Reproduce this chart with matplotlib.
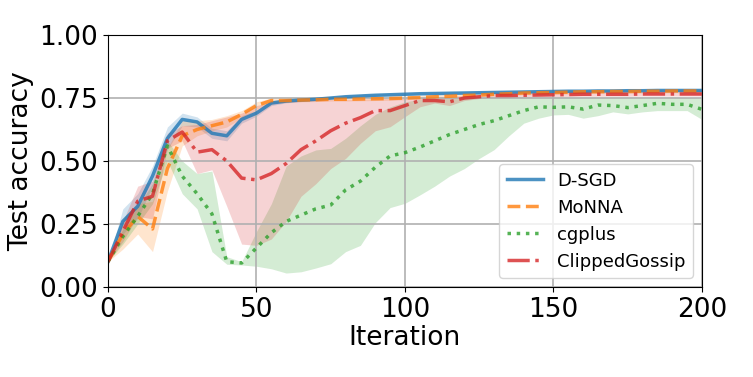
import matplotlib
matplotlib.use('Agg')
import matplotlib.pyplot as plt

iterations = list(range(0, 201, 5))

dsgd_mean = [0.10, 0.26, 0.32, 0.44, 0.59, 0.665, 0.655, 0.61, 0.60, 0.665, 0.69,
             0.73, 0.738, 0.742, 0.745, 0.75, 0.755, 0.758, 0.761, 0.763, 0.765,
             0.767, 0.768, 0.769, 0.77, 0.771, 0.772, 0.773, 0.774, 0.775, 0.776,
             0.777, 0.777, 0.778, 0.778, 0.779, 0.779, 0.78, 0.78, 0.78, 0.78]
dsgd_spread = [0.0, 0.05, 0.05, 0.04, 0.045, 0.025, 0.02, 0.02, 0.02, 0.015, 0.012,
               0.01, 0.007, 0.006, 0.006, 0.006, 0.006, 0.006, 0.006, 0.006, 0.006,
               0.006, 0.006, 0.006, 0.006, 0.006, 0.006, 0.006, 0.006, 0.006, 0.006,
               0.006, 0.006, 0.006, 0.006, 0.006, 0.006, 0.006, 0.006, 0.006, 0.006]

monna_mean = [0.10, 0.21, 0.28, 0.23, 0.47, 0.60, 0.625, 0.64, 0.655, 0.685, 0.72,
              0.74, 0.74, 0.742, 0.743, 0.745, 0.745, 0.746, 0.747, 0.748, 0.75,
              0.752, 0.755, 0.757, 0.76, 0.762, 0.765, 0.767, 0.77, 0.771, 0.772,
              0.773, 0.775, 0.775, 0.776, 0.776, 0.777, 0.777, 0.778, 0.778, 0.778]
monna_lo = [0.10, 0.15, 0.21, 0.14, 0.38, 0.56, 0.60, 0.62, 0.635, 0.67, 0.705,
            0.73, 0.733, 0.735, 0.736, 0.738, 0.738, 0.739, 0.74, 0.741, 0.743,
            0.745, 0.748, 0.75, 0.753, 0.755, 0.758, 0.76, 0.763, 0.764, 0.765,
            0.766, 0.768, 0.768, 0.769, 0.769, 0.77, 0.77, 0.771, 0.771, 0.771]
monna_hi = [0.10, 0.27, 0.33, 0.34, 0.55, 0.66, 0.66, 0.665, 0.68, 0.70, 0.735,
            0.75, 0.747, 0.749, 0.75, 0.752, 0.752, 0.753, 0.754, 0.755, 0.757,
            0.759, 0.762, 0.764, 0.767, 0.769, 0.772, 0.774, 0.777, 0.778, 0.779,
            0.78, 0.782, 0.782, 0.783, 0.783, 0.784, 0.784, 0.785, 0.785, 0.785]

cgplus_mean = [0.10, 0.20, 0.28, 0.37, 0.56, 0.44, 0.37, 0.29, 0.10, 0.095, 0.155,
               0.215, 0.26, 0.285, 0.31, 0.325, 0.385, 0.42, 0.475, 0.52, 0.533,
               0.555, 0.58, 0.605, 0.625, 0.645, 0.66, 0.68, 0.70, 0.715, 0.713,
               0.715, 0.706, 0.722, 0.72, 0.712, 0.72, 0.729, 0.725, 0.725, 0.705]
cgplus_lo = [0.10, 0.17, 0.25, 0.33, 0.50, 0.37, 0.31, 0.14, 0.09, 0.087, 0.082,
             0.072, 0.055, 0.06, 0.075, 0.092, 0.14, 0.165, 0.255, 0.315, 0.332,
             0.365, 0.40, 0.44, 0.47, 0.51, 0.545, 0.60, 0.65, 0.67, 0.683,
             0.685, 0.67, 0.68, 0.695, 0.687, 0.695, 0.70, 0.70, 0.70, 0.665]
cgplus_hi = [0.10, 0.23, 0.32, 0.41, 0.58, 0.50, 0.45, 0.46, 0.12, 0.10, 0.22,
             0.33, 0.48, 0.52, 0.544, 0.55, 0.59, 0.64, 0.685, 0.715, 0.735,
             0.745, 0.75, 0.752, 0.754, 0.755, 0.755, 0.755, 0.755, 0.755, 0.755,
             0.755, 0.755, 0.755, 0.755, 0.755, 0.755, 0.755, 0.755, 0.752, 0.75]

clipped_mean = [0.10, 0.22, 0.34, 0.36, 0.58, 0.615, 0.535, 0.545, 0.50, 0.432, 0.425,
                0.45, 0.49, 0.545, 0.58, 0.62, 0.65, 0.672, 0.70, 0.70, 0.72,
                0.74, 0.74, 0.735, 0.75, 0.755, 0.76, 0.76, 0.761, 0.762, 0.763,
                0.764, 0.765, 0.765, 0.765, 0.765, 0.766, 0.766, 0.766, 0.766, 0.766]
clipped_lo = [0.10, 0.18, 0.28, 0.27, 0.55, 0.58, 0.45, 0.465, 0.32, 0.17, 0.165,
              0.19, 0.26, 0.36, 0.41, 0.47, 0.51, 0.57, 0.62, 0.636, 0.676,
              0.715, 0.73, 0.72, 0.74, 0.748, 0.752, 0.752, 0.753, 0.754, 0.755,
              0.756, 0.757, 0.757, 0.757, 0.757, 0.758, 0.758, 0.758, 0.758, 0.758]
clipped_hi = [0.10, 0.26, 0.40, 0.42, 0.61, 0.64, 0.645, 0.66, 0.675, 0.69, 0.72,
              0.735, 0.74, 0.742, 0.744, 0.745, 0.745, 0.746, 0.747, 0.748, 0.75,
              0.752, 0.755, 0.757, 0.76, 0.762, 0.765, 0.768, 0.769, 0.77, 0.771,
              0.772, 0.773, 0.773, 0.773, 0.773, 0.774, 0.774, 0.774, 0.774, 0.774]

fig = plt.figure(figsize=(7.53, 3.77), dpi=100)
ax = fig.add_axes([0.1434, 0.239, 0.7888, 0.668])

dsgd_lo = [m - s for m, s in zip(dsgd_mean, dsgd_spread)]
dsgd_hi = [m + s for m, s in zip(dsgd_mean, dsgd_spread)]

series = [
	('D-SGD', dsgd_mean, dsgd_lo, dsgd_hi, 'tab:blue', '-'),
	('MoNNA', monna_mean, monna_lo, monna_hi, 'tab:orange', '--'),
	('cgplus', cgplus_mean, cgplus_lo, cgplus_hi, 'tab:green', ':'),
	('ClippedGossip', clipped_mean, clipped_lo, clipped_hi, 'tab:red', '-.'),
]

for name, mean, lo, hi, color, style in series:
	ax.plot(iterations, mean, style, color=color, lw=2.5, alpha=0.8, label=name)
	ax.fill_between(iterations, lo, hi, color=color, alpha=0.2, lw=0)

ax.set_xlim(0, 200)
ax.set_ylim(0, 1)
ax.set_xticks([0, 50, 100, 150, 200])
ax.set_yticks([0, 0.25, 0.5, 0.75, 1.0])
ax.tick_params(labelsize=19)
ax.set_xlabel('Iteration', fontsize=19, labelpad=2)
ax.set_ylabel('Test accuracy', fontsize=19)
ax.grid(lw=1.2)
ax.legend(loc='lower right', fontsize=13)

fig.savefig('out.png', dpi=100)
